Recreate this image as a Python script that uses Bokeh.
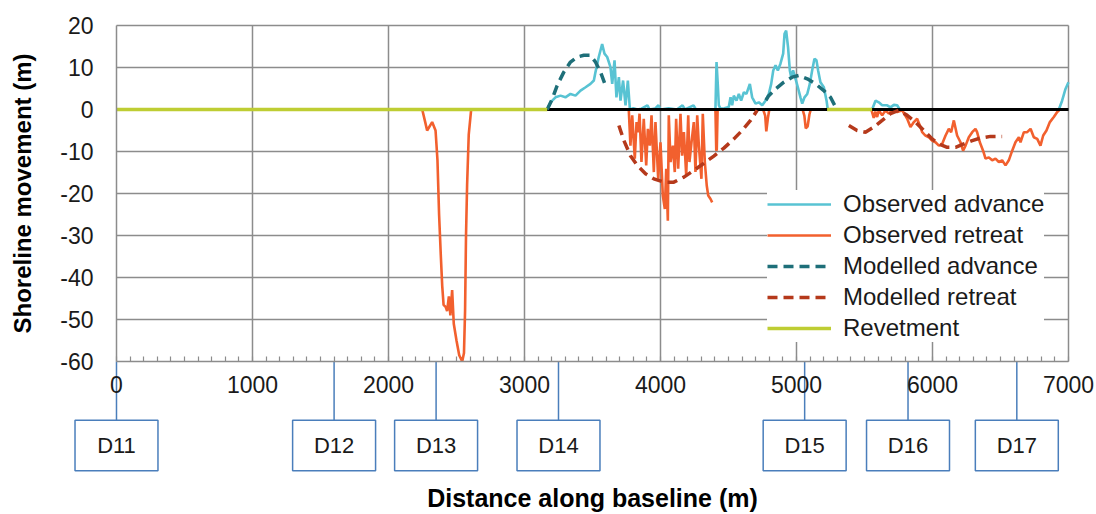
import math
from bokeh.plotting import figure
from bokeh.models import LinearAxis, FixedTicker, Range1d
from bokeh.core.properties import value
from bokeh.embed import file_html
from bokeh.resources import INLINE

nan = float("nan")

# ---------------- data ----------------
x_ticks = [0, 1000, 2000, 3000, 4000, 5000, 6000, 7000]
x_minor = list(range(0, 7001, 100))
y_ticks = [-60, -50, -40, -30, -20, -10, 0, 10, 20]

stations = ["D11", "D12", "D13", "D14", "D15", "D16", "D17"]
station_x = [0, 1600, 2350, 3250, 5060, 5820, 6620]

obs_adv_1_x = [3167, 3191, 3228, 3265, 3301, 3338, 3375, 3412, 3449, 3485, 3510, 3522, 3546, 3571, 3588, 3608,
               3632, 3645, 3662, 3676, 3694, 3706, 3725, 3743, 3760, 3775, 3800, 3830, 3860, 3904, 3920, 3960,
               3985, 4000, 4060, 4120, 4162, 4180, 4243, 4260, 4300]
obs_adv_1_y = [0, 1.7, 2.9, 3.3, 2.9, 3.7, 3.3, 4.5, 5.3, 6.1, 6.9, 8.9, 12.5, 15.6, 13.3, 12.5,
               10.1, 6.1, 11.7, 2.9, 7.7, 2.1, 6.9, 1.0, 6.9, 0, 0.3, 0, 0.2, 1.0, 0, 0.2,
               1.0, 0, 0.3, 0, 1.0, 0, 1.0, 0, 0]
obs_adv_2_x = [4404, 4412, 4421, 4429, 4441, 4470, 4502, 4515, 4527, 4539, 4559, 4576, 4593, 4613, 4632, 4657,
               4674, 4699, 4723, 4748, 4772, 4796, 4814, 4829, 4846, 4863, 4882, 4902, 4912, 4924, 4938, 4951,
               4961, 4975, 4993, 5010, 5029, 5042, 5059, 5079, 5098, 5115, 5132, 5147, 5159, 5176, 5201, 5221, 5230]
obs_adv_2_y = [0, 11.3, 6.1, 1.0, 0.2, 0.3, 0.6, 2.9, 1.0, 3.3, 2.1, 3.7, 2.1, 4.1, 3.7, 6.1,
               2.9, 1.4, 1.7, 1.0, 2.1, 3.7, 6.1, 9.3, 10.5, 9.3, 10.9, 13.3, 18.0, 18.8, 14.8, 9.3,
               7.7, 9.3, 7.3, 5.3, 2.9, 1.4, 2.9, 3.7, 6.1, 9.3, 12.1, 11.7, 9.3, 6.5, 5.3, 2.1, 0]
obs_adv_3_x = [5556, 5581, 5605, 5630, 5667, 5691, 5716, 5740, 5760]
obs_adv_3_y = [0, 2.1, 1.7, 1.0, 1.0, 0.5, 1.1, 1.0, 0]
obs_adv_4_x = [6929, 6953, 6978, 7000]
obs_adv_4_y = [0, 2.1, 4.9, 6.5]

obs_ret_1_x = [2248, 2270, 2284, 2321, 2346, 2360, 2372, 2385, 2395, 2405, 2420, 2431, 2444, 2455, 2468,
               2480, 2500, 2520, 2542, 2555, 2563, 2570, 2578, 2590, 2608]
obs_ret_1_y = [0, -3, -5, -3, -5, -12, -25, -35, -42, -46.5, -47, -48, -44.5, -49, -43,
               -51, -55, -58.5, -60, -58, -48, -30, -18, -6, 0]
obs_ret_2_x = [3767, 3779, 3792, 3811, 3824, 3836, 3846, 3860, 3877, 3895, 3907, 3922, 3934, 3951, 3963,
               3983, 4000, 4017, 4032, 4042, 4054, 4061, 4074, 4091, 4105, 4115, 4130, 4147, 4159, 4172,
               4189, 4204, 4213, 4228, 4245, 4257, 4270, 4282, 4301, 4311, 4326, 4340, 4351, 4368, 4380]
obs_ret_2_y = [-0.2, -8.6, -1.4, -11.7, -3.0, -5.4, -1.0, -12.5, -2.2, -13.3, -4.6, -8.6, -1.4, -14.9, -3.0,
               -16.5, -7.8, -20.5, -23.7, -14.1, -26.5, -1.4, -12.5, -8.6, -14.9, -2.2, -14.1, -1.0, -11.0, -5.4,
               -15.7, -1.4, -12.5, -7.8, -3.0, -14.9, -1.4, -8.6, -16.5, -1.0, -12.5, -18.1, -20.5, -21.3, -22.1]
obs_ret_3_x = [4404, 4410, 4414, 4420]
obs_ret_3_y = [0, -9.8, -9.5, 0]
obs_ret_4_x = [4755, 4770, 4778, 4790, 4800]
obs_ret_4_y = [0, -1.5, -5.2, -2.0, 0]
obs_ret_5_x = [5045, 5058, 5068, 5082, 5095, 5105]
obs_ret_5_y = [0, -1.5, -4.5, -4.0, -1.2, 0]
obs_ret_6_x = [5550, 5568, 5580, 5593, 5605, 5630, 5654, 5679, 5703, 5740, 5777, 5814, 5838, 5863, 5887,
               5907, 5924, 5948, 5973, 5997, 6022, 6047, 6071, 6096, 6120, 6137, 6157, 6181, 6206, 6225,
               6243, 6267, 6292, 6316, 6328, 6348, 6372, 6390, 6414, 6439, 6463, 6488, 6512, 6537, 6561,
               6586, 6610, 6635, 6647, 6672, 6696, 6721, 6745, 6770, 6794, 6814, 6838, 6863, 6892, 6917, 6936]
obs_ret_6_y = [0, -2.0, -0.5, -1.8, -0.2, -1.4, -0.2, -1.0, -0.2, -0.6, -0.2, -2.2, -4.2, -3.0, -2.2,
               -3.8, -5.4, -6.2, -6.6, -7.4, -7.8, -8.6, -8.2, -6.2, -4.6, -5.4, -2.6, -6.2, -7.8, -9.8,
               -8.6, -6.6, -5.4, -4.6, -5.4, -7.8, -9.8, -11.7, -11.4, -12.1, -11.7, -12.5, -12.1, -13.3, -12.1,
               -9.8, -7.8, -6.6, -7.8, -5.4, -5.4, -4.6, -6.6, -7.0, -8.6, -6.2, -5.0, -3.0, -1.8, -0.6, 0]

mod_adv_1_x = [3167, 3204, 3240, 3289, 3338, 3387, 3436, 3485, 3522, 3559, 3596, 3608]
mod_adv_1_y = [0, 2.5, 5.7, 8.9, 11.3, 12.5, 12.9, 12.9, 11.3, 8.9, 5.7, 5.3]
mod_adv_2_x = [4775, 4796, 4846, 4907, 4968, 5017, 5079, 5140, 5201, 5250, 5287]
mod_adv_2_y = [2.2, 3.3, 4.9, 6.5, 7.7, 8.1, 7.3, 6.1, 4.5, 2.9, 0.6]

mod_ret_1_x = [3694, 3731, 3779, 3829, 3890, 3951, 4025, 4098, 4172, 4245, 4319, 4392, 4466, 4540, 4600, 4662, 4711]
mod_ret_1_y = [-3.8, -7.4, -11, -13.3, -15.3, -16.5, -17.3, -17.3, -16.1, -14.5, -12.8, -11.1, -9.2, -7.0, -5.0, -2.6, -0.2]
mod_ret_2_x = [5385, 5446, 5507, 5568, 5630, 5691, 5752, 5814, 5875, 5936, 5997, 6047, 6108, 6169, 6230, 6292, 6353, 6426, 6512]
mod_ret_2_y = [-3.8, -5.0, -5.4, -4.2, -2.6, -1.0, -0.2, -1.4, -3.0, -5.0, -7.0, -8.2, -9.0, -9.0, -8.2, -7.4, -6.8, -6.4, -6.4]

rev_1_x = [0, 3167]
rev_1_y = [0, 0]
rev_2_x = [5225, 5556]
rev_2_y = [0, 0]

baseline_x = [0, 7000]
baseline_y = [0, 0]

# ---------------- styling ----------------
FONT = value("Liberation Sans")
GRID = "#8C8C8C"
C_OBS_ADV = "#58C3D3"
C_OBS_RET = "#F2602E"
C_MOD_ADV = "#1E6F79"
C_MOD_RET = "#B5391B"
C_REV = "#BECD33"
C_BOX = "#4A7EBB"

Y_LO, Y_HI = -60, 20
BOX_HALF = 305
BOX_TOP, BOX_BOT = -74, -86


def join(*segs):
    xs, ys = [], []
    for i, (sx, sy) in enumerate(segs):
        if i:
            xs.append(nan)
            ys.append(nan)
        xs += list(sx)
        ys += list(sy)
    return xs, ys


p = figure(width=1094, height=512,
           x_range=Range1d(-852.9, 7191.2), y_range=Range1d(-95.95, 25.95),
           x_axis_type=None, y_axis_type=None,
           output_backend="svg", toolbar_location=None,
           min_border=0, outline_line_color=None,
           background_fill_color="white", border_fill_color="white")

# gridlines
vg = [t for t in x_ticks if t > 0]
p.segment(x0=vg, y0=[Y_LO] * len(vg), x1=vg, y1=[Y_HI] * len(vg), line_color=GRID, line_width=1.5)
hg = [t for t in y_ticks if t > Y_LO]
p.segment(x0=[x_ticks[0]] * len(hg), y0=hg, x1=[x_ticks[-1]] * len(hg), y1=hg, line_color=GRID, line_width=1.5)

# axes (fixed inside the frame)
xaxis = LinearAxis(fixed_location=Y_LO, bounds=(x_ticks[0], x_ticks[-1]),
                   ticker=FixedTicker(ticks=x_ticks, minor_ticks=x_minor))
xaxis.axis_line_color = GRID
xaxis.axis_line_width = 1.5
xaxis.major_tick_in = 0
xaxis.major_tick_out = 0
xaxis.minor_tick_in = 5
xaxis.minor_tick_out = 0
xaxis.minor_tick_line_color = GRID
xaxis.minor_tick_line_width = 1.2
xaxis.major_label_text_font = "Liberation Sans"
xaxis.major_label_text_font_size = "23px"
xaxis.major_label_text_color = "#1a1a1a"
xaxis.major_label_standoff = 14
p.add_layout(xaxis, "below")

yaxis = LinearAxis(fixed_location=0, bounds=(Y_LO, Y_HI), ticker=FixedTicker(ticks=y_ticks))
yaxis.axis_line_color = GRID
yaxis.axis_line_width = 1.5
yaxis.major_tick_in = 0
yaxis.major_tick_out = 0
yaxis.minor_tick_in = 0
yaxis.minor_tick_out = 0
yaxis.major_label_overrides = {t: str(t) for t in y_ticks}
yaxis.major_label_text_font = "Liberation Sans"
yaxis.major_label_text_font_size = "23px"
yaxis.major_label_text_color = "#1a1a1a"
yaxis.major_label_standoff = 23
p.add_layout(yaxis, "left")

# series
x, y = join((obs_adv_1_x, obs_adv_1_y), (obs_adv_2_x, obs_adv_2_y), (obs_adv_3_x, obs_adv_3_y), (obs_adv_4_x, obs_adv_4_y))
p.line(x, y, line_color=C_OBS_ADV, line_width=2.6, legend_label="Observed advance")
x, y = join((obs_ret_1_x, obs_ret_1_y), (obs_ret_2_x, obs_ret_2_y), (obs_ret_3_x, obs_ret_3_y),
            (obs_ret_4_x, obs_ret_4_y), (obs_ret_5_x, obs_ret_5_y), (obs_ret_6_x, obs_ret_6_y))
p.line(x, y, line_color=C_OBS_RET, line_width=2.6, legend_label="Observed retreat")

p.line(baseline_x, baseline_y, line_color="black", line_width=3)

x, y = join((mod_adv_1_x, mod_adv_1_y), (mod_adv_2_x, mod_adv_2_y))
p.line(x, y, line_color=C_MOD_ADV, line_width=3.5, line_dash="10 6", legend_label="Modelled advance")
x, y = join((mod_ret_1_x, mod_ret_1_y), (mod_ret_2_x, mod_ret_2_y))
p.line(x, y, line_color=C_MOD_RET, line_width=3.5, line_dash="10 6", legend_label="Modelled retreat")
x, y = join((rev_1_x, rev_1_y), (rev_2_x, rev_2_y))
p.line(x, y, line_color=C_REV, line_width=3.5, legend_label="Revetment")

# station markers
n = len(station_x)
p.segment(x0=station_x, y0=[Y_LO] * n, x1=station_x, y1=[BOX_TOP] * n, line_color=C_BOX, line_width=1.5)
p.quad(left=[s - BOX_HALF for s in station_x], right=[s + BOX_HALF for s in station_x],
       top=[BOX_TOP] * n, bottom=[BOX_BOT] * n,
       fill_color="white", line_color=C_BOX, line_width=1.5)
p.text(x=station_x, y=[(BOX_TOP + BOX_BOT) / 2] * n, text=stations,
       text_font=FONT, text_font_size="22px", text_color="#1a1a1a",
       text_align="center", text_baseline="middle")

# axis titles
p.text(x=[(x_ticks[0] + x_ticks[-1]) / 2], y=[-92.6], text=["Distance along baseline (m)"],
       text_font=FONT, text_font_size="25px", text_font_style=value("bold"), text_color="black",
       text_align="center", text_baseline="middle")
p.text(x=[-691], y=[(Y_LO + Y_HI) / 2], text=["Shoreline movement (m)"], angle=math.pi / 2,
       text_font=FONT, text_font_size="24px", text_font_style=value("bold"), text_color="black",
       text_align="center", text_baseline="middle")

# legend
lg = p.legend[0]
lg.location = (767, 170)
lg.background_fill_color = "white"
lg.background_fill_alpha = 1.0
lg.border_line_color = None
lg.padding = 8
lg.margin = 0
lg.spacing = 3
lg.glyph_width = 64
lg.glyph_height = 26
lg.label_height = 26
lg.label_standoff = 12
lg.label_text_font = "Liberation Sans"
lg.label_text_font_size = "24px"
lg.label_text_color = "#1a1a1a"

open("out.html", "w").write(file_html(p, INLINE))
